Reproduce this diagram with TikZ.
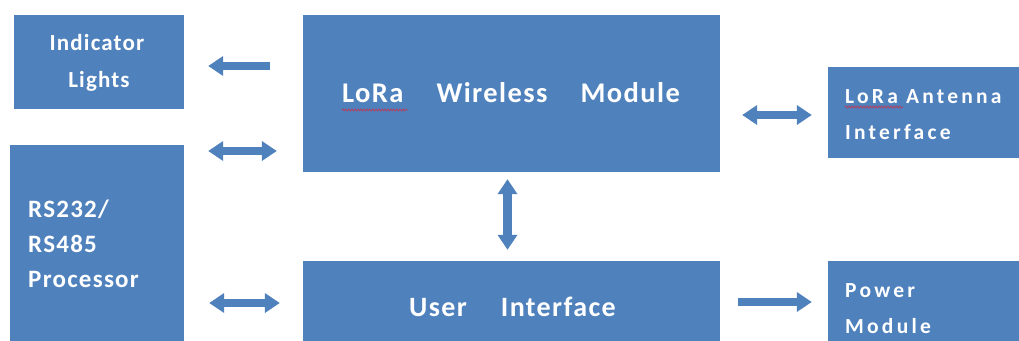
\documentclass[tikz,border=0pt]{standalone}
\usepackage{fontspec}
\setmainfont{Carlito}
\newfontfamily\boxfont[LetterSpace=5]{Carlito}
\newfontfamily\smallfont[LetterSpace=15]{Carlito}
\usetikzlibrary{arrows.meta,decorations.pathmorphing}
\definecolor{boxblue}{HTML}{4F81BD}
\definecolor{squig}{HTML}{B0405E}
\begin{document}
\begin{tikzpicture}[x=1pt,y=-1pt,
  box/.style={fill=boxblue, draw=none, inner sep=0pt},
  txt/.style={text=white, inner sep=0pt},
  arr/.style={draw=boxblue, line width=8.5pt, -{Triangle[length=15pt,width=19pt]}},
  darr/.style={draw=boxblue, line width=8.5pt, {Triangle[length=15pt,width=19pt]}-{Triangle[length=15pt,width=19pt]}},
  spell/.style={draw=squig, line width=0.8pt, decorate, decoration={snake, amplitude=1pt, segment length=3pt}}]
\useasboundingbox (0,0) rectangle (1019,340);
\fill[white] (0,0) rectangle (1019,340);
% boxes
\node[box, minimum width=170pt, minimum height=94pt] (ind) at (99,62) {};
\node[box, minimum width=174pt, minimum height=200pt] (rs) at (97,245) {};
\node[box, minimum width=417pt, minimum height=157pt] (lora) at (511.5,93.5) {};
\node[box, minimum width=200pt, minimum height=91pt] (ant) at (928,112.5) {};
\node[box, minimum width=417pt, minimum height=90pt] (ui) at (511.5,306) {};
\node[box, minimum width=200pt, minimum height=90pt] (pwr) at (928,306) {};
% texts
\node[txt, anchor=base, font=\boxfont\bfseries\fontsize{23}{23}\selectfont] (indA) at (97,50) {Indicator};
\node[txt, anchor=base, font=\boxfont\bfseries\fontsize{23}{23}\selectfont] (indB) at (99,87) {Lights};
\node[txt, anchor=base west, font=\boxfont\bfseries\fontsize{25}{25}\selectfont] (rsA) at (28,217) {RS232/};
\node[txt, anchor=base west, font=\boxfont\bfseries\fontsize{25}{25}\selectfont] (rsB) at (28,252) {RS485};
\node[txt, anchor=base west, font=\boxfont\bfseries\fontsize{25}{25}\selectfont] (rsC) at (28,287) {Processor};
\node[txt, anchor=base, font=\boxfont\bfseries\fontsize{28.5}{28.5}\selectfont] (loraT) at (511,102) {LoRa\hspace{33pt}Wireless\hspace{33pt}Module};
\node[txt, anchor=base, font=\boxfont\bfseries\fontsize{28}{28}\selectfont] (uiT) at (512.5,316) {User\hspace{34pt}Interface};
\node[txt, anchor=base west, font=\smallfont\bfseries\fontsize{21.5}{21.5}\selectfont] (antA) at (845,103) {LoRa Antenna};
\node[txt, anchor=base west, font=\smallfont\bfseries\fontsize{21.5}{21.5}\selectfont] (antB) at (845,139) {Interface};
\node[txt, anchor=base west, font=\smallfont\bfseries\fontsize{21.5}{21.5}\selectfont] (pwrA) at (845,297) {Power};
\node[txt, anchor=base west, font=\smallfont\bfseries\fontsize{21.5}{21.5}\selectfont] (pwrB) at (845,333) {Module};
% spell-check squiggles
\draw[spell] ([yshift=-8pt]loraT.base west) -- ++(66,0);
\draw[spell] ([yshift=-4pt]antA.base west) -- ++(58,0);
% arrows
\draw[arr, shorten <=33pt, shorten >=24pt] (lora.west |- 0,66) -- (ind.east |- 0,66);
\draw[darr, shorten <=24pt, shorten >=26pt] (rs.east |- 0,151) -- (lora.west |- 0,151);
\draw[darr, shorten <=25pt, shorten >=23pt] (rs.east |- 0,303) -- (ui.west |- 0,303);
\draw[darr, shorten <=7pt, shorten >=11pt] (lora.south -| 507.5,0) -- (ui.north -| 507.5,0);
\draw[darr, shorten <=22pt, shorten >=16pt] (lora.east |- 0,115) -- (ant.west |- 0,115);
\draw[arr, shorten <=18pt, shorten >=16pt] (ui.east |- 0,302) -- (pwr.west |- 0,302);
\end{tikzpicture}
\end{document}
